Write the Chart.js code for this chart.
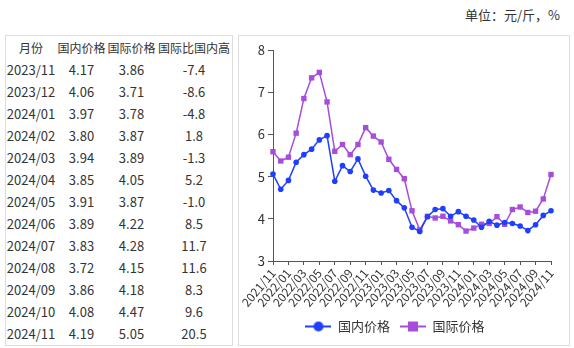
<!DOCTYPE html>
<html>
<head>
<meta charset="utf-8">
<script src="https://cdn.jsdelivr.net/npm/chart.js@4"></script>
<style>
  html, body { margin: 0; padding: 0; background: #fff; overflow: hidden; }
  body { width: 574px; height: 348px; position: relative; font-family: "Noto Sans CJK SC", "Noto Sans", sans-serif; color: #333; }
  #unit { position: absolute; right: 14px; top: 5px; font-size: 13px; line-height: 20px; }
  #table-box { position: absolute; left: 5px; top: 35px; width: 226px; height: 309px; border: 1px solid #ddd; }
  #price-table { border-collapse: collapse; table-layout: fixed; width: 226px; margin-top: 1px; }
  #price-table th, #price-table td { padding: 0; height: 22px; line-height: 22px; text-align: center; white-space: nowrap; }
  #price-table th { font-size: 12px; font-weight: normal; }
  #price-table td { font-size: 13px; }
  #chart-box { position: absolute; left: 238px; top: 35px; width: 330px; height: 309px; border: 1px solid #ddd; }
  #chart-wrap { position: absolute; left: 239px; top: 36px; width: 330px; height: 307px; }
</style>
</head>
<body>
<div id="unit">单位：元/斤，%</div>
<div id="table-box">
  <table id="price-table">
    <colgroup><col style="width:50px"><col style="width:51px"><col style="width:49px"><col style="width:76px"></colgroup>
    <thead><tr><th>月份</th><th>国内价格</th><th>国际价格</th><th>国际比国内高</th></tr></thead>
    <tbody id="table-body"></tbody>
  </table>
</div>
<div id="chart-box"></div>
<div id="chart-wrap"><canvas id="priceChart" width="330" height="307"></canvas></div>

<script>
// --- Data ---
const months = [
  '2021/11', '2021/12', '2022/01', '2022/02', '2022/03', '2022/04', '2022/05', '2022/06',
  '2022/07', '2022/08', '2022/09', '2022/10', '2022/11', '2022/12', '2023/01', '2023/02',
  '2023/03', '2023/04', '2023/05', '2023/06', '2023/07', '2023/08', '2023/09', '2023/10',
  '2023/11', '2023/12', '2024/01', '2024/02', '2024/03', '2024/04', '2024/05', '2024/06',
  '2024/07', '2024/08', '2024/09', '2024/10', '2024/11'
];
const domesticPrice = [
  5.06, 4.70, 4.91, 5.34, 5.52, 5.65, 5.87, 5.97,
  4.89, 5.26, 5.12, 5.42, 5.01, 4.68, 4.61, 4.67,
  4.43, 4.26, 3.80, 3.70, 4.05, 4.22, 4.24, 4.06,
  4.17, 4.06, 3.97, 3.80, 3.94, 3.85, 3.91, 3.89,
  3.83, 3.72, 3.86, 4.08, 4.19
];
const internationalPrice = [
  5.59, 5.37, 5.46, 6.03, 6.85, 7.34, 7.47, 6.77,
  5.60, 5.76, 5.52, 5.76, 6.16, 5.96, 5.82, 5.41,
  5.17, 4.95, 4.19, 3.74, 4.06, 4.02, 4.06, 3.95,
  3.86, 3.71, 3.78, 3.87, 3.89, 4.05, 3.87, 4.22,
  4.28, 4.15, 4.18, 4.47, 5.05
];
// gap of the international price over the domestic one, last 13 months (%)
const gapPercent = ['-7.4', '-8.6', '-4.8', '1.8', '-1.3', '5.2', '-1.0', '8.5', '11.7', '11.6', '8.3', '9.6', '20.5'];
const yTicks = [3, 4, 5, 6, 7, 8];

const BLUE = '#1f3fff';
const PURPLE = '#a64ddc';

// --- Table ---
const tableRows = gapPercent.length;
const start = months.length - tableRows;
document.getElementById('table-body').innerHTML = gapPercent.map((gap, i) => `
  <tr>
    <td>${months[start + i]}</td>
    <td>${domesticPrice[start + i].toFixed(2)}</td>
    <td>${internationalPrice[start + i].toFixed(2)}</td>
    <td>${gap}</td>
  </tr>`).join('');

// --- Legend icons (line with marker) ---
function legendIcon(color, shape) {
  const c = document.createElement('canvas');
  c.width = 26; c.height = 12;
  const g = c.getContext('2d');
  g.strokeStyle = color;
  g.fillStyle = color;
  g.lineWidth = 2;
  g.beginPath(); g.moveTo(0, 6); g.lineTo(26, 6); g.stroke();
  if (shape === 'circle') {
    g.beginPath(); g.arc(13, 6, 5, 0, Math.PI * 2); g.fill();
  } else {
    g.fillRect(8, 1, 10, 10);
  }
  return c;
}
const legendIcons = [legendIcon(BLUE, 'circle'), legendIcon(PURPLE, 'rect')];

// --- Chart.js ---
Chart.defaults.font.family = '"Noto Sans CJK SC", "Noto Sans", sans-serif';
Chart.defaults.color = '#333';

const tickColor = ctx => (ctx.index % 2 === 0 ? '#555' : 'rgba(0,0,0,0)');

new Chart(document.getElementById('priceChart'), {
  type: 'line',
  data: {
    labels: months,
    datasets: [
      {
        label: '国内价格',
        data: domesticPrice,
        borderColor: BLUE,
        backgroundColor: BLUE,
        borderWidth: 1.5,
        pointStyle: 'circle',
        pointRadius: 2.8,
        pointBorderWidth: 0,
        tension: 0
      },
      {
        label: '国际价格',
        data: internationalPrice,
        borderColor: PURPLE,
        backgroundColor: PURPLE,
        borderWidth: 1.5,
        pointStyle: 'rect',
        pointRadius: 3.8,
        pointBorderWidth: 0,
        tension: 0
      }
    ]
  },
  options: {
    responsive: false,
    animation: false,
    layout: { padding: { left: 0, top: 14, right: 18, bottom: 0 } },
    plugins: {
      tooltip: { enabled: false },
      legend: {
        position: 'bottom',
        labels: {
          usePointStyle: true,
          pointStyleWidth: 26,
          padding: 10,
          font: { size: 13 },
          color: '#333',
          generateLabels(chart) {
            const items = Chart.defaults.plugins.legend.labels.generateLabels(chart);
            items.forEach((item, i) => { item.pointStyle = legendIcons[i]; });
            return items;
          }
        }
      }
    },
    scales: {
      x: {
        offset: false,
        afterFit(scale) { scale.height = 49; },
        grid: { drawOnChartArea: false, drawTicks: true, tickLength: 4, color: tickColor },
        border: { color: '#555', width: 1 },
        ticks: {
          autoSkip: false,
          minRotation: 50,
          maxRotation: 50,
          padding: 1,
          font: { size: 12 },
          color: '#333',
          callback(value, index) { return index % 2 === 0 ? months[index] : ''; }
        }
      },
      y: {
        min: yTicks[0],
        max: yTicks[yTicks.length - 1],
        afterFit(scale) { scale.width = 34; },
        afterBuildTicks(scale) { scale.ticks = yTicks.map(v => ({ value: v })); },
        grid: { drawOnChartArea: false, drawTicks: true, tickLength: 5, color: '#555' },
        border: { color: '#555', width: 1 },
        ticks: { padding: 3, font: { size: 13 }, color: '#333' }
      }
    }
  }
});
</script>
</body>
</html>
